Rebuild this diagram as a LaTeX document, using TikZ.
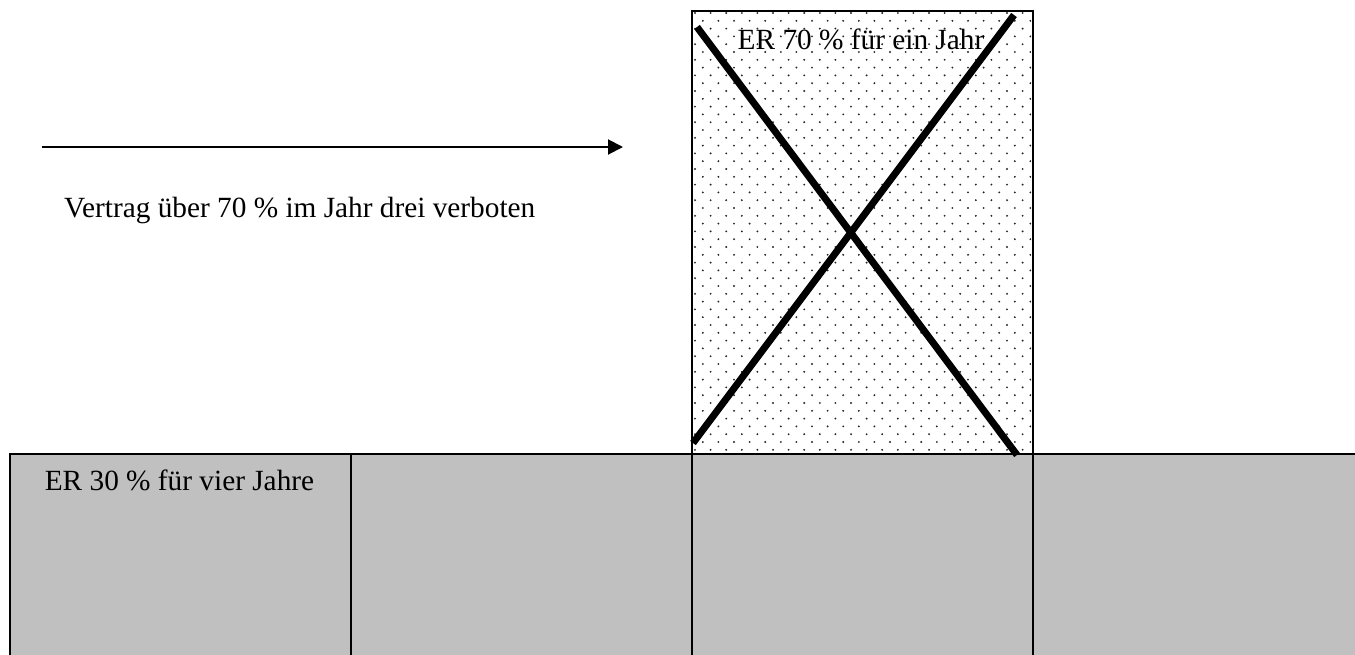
\documentclass[tikz,border=0pt]{standalone}
\usepackage{fontspec}
\setmainfont{Liberation Serif}
\usetikzlibrary{arrows.meta}
\definecolor{cellgray}{HTML}{C0C0C0}
\begin{document}
\begin{tikzpicture}[x=1pt,y=-1pt,
  cellbox/.style={draw=black, line width=2pt, fill=cellgray, minimum width=341pt, minimum height=215pt, inner sep=0pt, anchor=north west},
  label/.style={font=\fontsize{29.3}{34}\selectfont, inner sep=0pt, anchor=base},
  crossline/.style={line width=7pt, line cap=butt},
  dotmark/.style={fill=black!85}
]
\useasboundingbox (0,0) rectangle (1355,654);
% top box
\node[draw=black, line width=1.5pt, fill=white, minimum width=341pt, minimum height=443pt, inner sep=0pt, anchor=north west] (topbox) at (691,10) {};
\begin{scope}
  \clip (692,11) rectangle (1031,452);
  \foreach \r in {0,...,58} {
    \pgfmathsetmacro{\off}{mod(\r,2)*7.8}
    \foreach \c in {0,...,23} {
      \fill[dotmark] ({695+\off+\c*15.6},{13+\r*7.8}) circle (1.05pt);
    }
  }
\end{scope}
\node[label] (toptext) at (861,49) {ER 70 \% für ein Jahr};
% bottom bar
\node[cellbox] (c1) at (9,453) {};
\node[cellbox] (c2) at (350,453) {};
\node[cellbox] (c3) at (691,453) {};
\node[cellbox, minimum width=360pt] (c4) at (1032,453) {};
\node[label] (bottext) at (179.5,490) {ER 30 \% für vier Jahre};
% arrow and text
\coordinate (arrS) at (42,147);
\coordinate (arrE) at (623,147);
\draw[line width=2pt, -{Triangle[length=15pt,width=15pt]}] (arrS) -- (arrE);
\node[label, anchor=base west] (midtext) at (64,217) {Vertrag über 70 \% im Jahr drei verboten};
% cross
\coordinate (xa1) at (697,27);
\coordinate (xa2) at (1017,455);
\coordinate (xb1) at (693,443);
\coordinate (xb2) at (1014,15);
\draw[crossline] (xa1) -- (xa2);
\draw[crossline] (xb1) -- (xb2);
\end{tikzpicture}
\end{document}
